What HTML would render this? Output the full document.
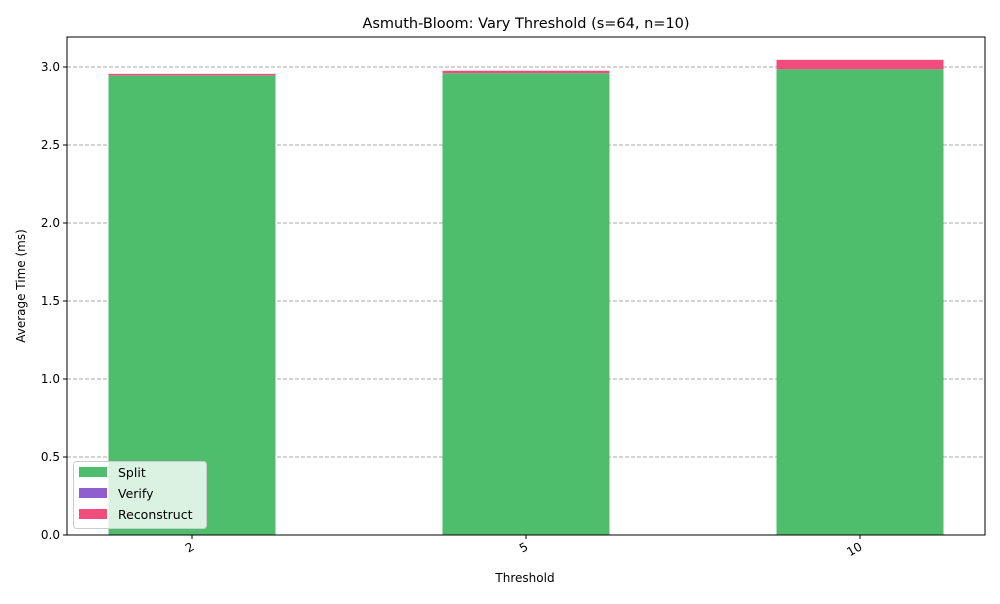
<!DOCTYPE html>
<html><head><meta charset="utf-8"><style>
body{margin:0;background:#fff;font-family:"DejaVu Sans","Liberation Sans",sans-serif;}
svg text{font-family:"DejaVu Sans","Liberation Sans",sans-serif;}
</style></head><body>
<svg id="chart" width="1000" height="600" viewBox="0 0 1000 600">
<rect x="0" y="0" width="1000" height="600" fill="#fff"/>
<text x="526" y="28" font-size="14.5" text-anchor="middle">Asmuth-Bloom: Vary Threshold (s=64, n=10)</text>
<g id="grid"></g><g id="bars"></g><g id="axes"></g>
<text x="525" y="582" font-size="12" text-anchor="middle">Threshold</text>
<text transform="translate(25,286) rotate(-90)" font-size="12" text-anchor="middle">Average Time (ms)</text>
<g>
<rect x="73.5" y="461.5" width="133" height="67" rx="3" fill="#fff" fill-opacity="0.8" stroke="#ccc"/>
<rect x="79" y="467" width="28" height="10" fill="#4ebe6d"/>
<text x="118" y="477" font-size="12.5">Split</text>
<rect x="79" y="488" width="28" height="10" fill="#8e5fcd"/>
<text x="118" y="498" font-size="12.5">Verify</text>
<rect x="79" y="509" width="28" height="10" fill="#f24b7e"/>
<text x="118" y="519" font-size="12.5">Reconstruct</text>
</g>
</svg>
<script>
const categories = ["2","5","10"];
const splitVals = [2.945, 2.96, 2.985];
const verifyVals = [0.001, 0.001, 0.001];
const reconVals = [0.01, 0.015, 0.06];
const yTicks = [0,0.5,1.0,1.5,2.0,2.5,3.0];
const yTickLabels = ["0.0","0.5","1.0","1.5","2.0","2.5","3.0"];

const NS="http://www.w3.org/2000/svg";
const L=67,R=985,T=37,B=535;
const y=v=>B-v*156;
const step=334;
const xc=i=>(L+R)/2+(i-(categories.length-1)/2)*step;
const bw=167;
function mk(tag,attrs,parent){const e=document.createElementNS(NS,tag);for(const k in attrs)e.setAttribute(k,attrs[k]);parent.appendChild(e);return e;}
const grid=document.getElementById('grid'),bars=document.getElementById('bars'),axes=document.getElementById('axes');
yTicks.forEach((t,i)=>{
  if(t>0){const g=mk('line',{x1:L,x2:R,y1:y(t),y2:y(t),stroke:'#aaaaaa','stroke-dasharray':'4,2','stroke-width':0.9},grid);
  
  }
  const tk=mk('line',{x1:L-4,x2:L,y1:y(t),y2:y(t),stroke:'#000'},axes);
  
  
  const tx=mk('text',{x:L-7,y:y(t)+4,'font-size':12,'text-anchor':'end'},axes);
  tx.textContent=yTickLabels[i];
  
  
});
categories.forEach((c,i)=>{
  const x=xc(i)-bw/2;
  let base=0;
  [[splitVals,'#4ebe6d','split'],[verifyVals,'#8e5fcd','verify'],[reconVals,'#f24b7e','reconstruct']].forEach(([arr,col,nm])=>{
    const v=arr[i];
    const r=mk('rect',{x:x,width:bw,y:y(base+v),height:y(base)-y(base+v),fill:col},bars);
    
    
    base+=v;
  });
  const tk=mk('line',{x1:xc(i),x2:xc(i),y1:B,y2:B+4,stroke:'#000'},axes);
  
  
  const tx=mk('text',{x:xc(i)+3,y:B+14,'font-size':12,'text-anchor':'end',transform:`rotate(-30 ${xc(i)+3} ${B+14})`},axes);
  tx.textContent=c;
  
  
});
const fr=mk('rect',{x:L,y:T,width:R-L,height:B-T,fill:'none',stroke:'#000','stroke-width':1},axes);


</script>
</body></html>
